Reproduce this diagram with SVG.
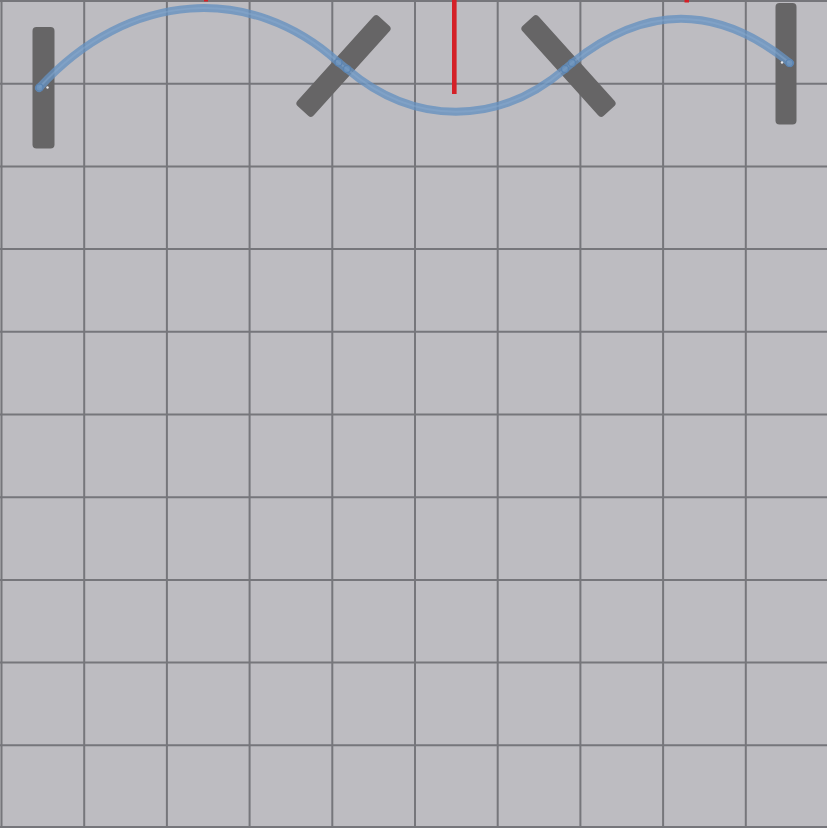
<svg xmlns="http://www.w3.org/2000/svg" width="827" height="828" viewBox="0 0 827 828">
<style>
.grid line{stroke:#76767b;stroke-width:2}
.bar{fill:#666566}
.rope{fill:none;stroke:#6791bf;stroke-opacity:0.8;stroke-width:8;stroke-linecap:round}
.rope2{fill:none;stroke:#8aabcf;stroke-opacity:0.45;stroke-width:2}
.pivot{fill:#7199c3;fill-opacity:0.6;stroke:#5a84b2;stroke-width:1.2}
.red{fill:#d42027}
</style>
<rect width="827" height="828" fill="#bdbcc1"/>
<g class="grid">
<line x1="1.5" y1="0" x2="1.5" y2="828"/>
<line x1="84.2" y1="0" x2="84.2" y2="828"/>
<line x1="166.9" y1="0" x2="166.9" y2="828"/>
<line x1="249.6" y1="0" x2="249.6" y2="828"/>
<line x1="332.3" y1="0" x2="332.3" y2="828"/>
<line x1="415" y1="0" x2="415" y2="828"/>
<line x1="497.7" y1="0" x2="497.7" y2="828"/>
<line x1="580.4" y1="0" x2="580.4" y2="828"/>
<line x1="663.1" y1="0" x2="663.1" y2="828"/>
<line x1="745.8" y1="0" x2="745.8" y2="828"/>
<line x1="0" y1="1" x2="827" y2="1"/>
<line x1="0" y1="83.7" x2="827" y2="83.7"/>
<line x1="0" y1="166.4" x2="827" y2="166.4"/>
<line x1="0" y1="249.1" x2="827" y2="249.1"/>
<line x1="0" y1="331.8" x2="827" y2="331.8"/>
<line x1="0" y1="414.5" x2="827" y2="414.5"/>
<line x1="0" y1="497.2" x2="827" y2="497.2"/>
<line x1="0" y1="579.9" x2="827" y2="579.9"/>
<line x1="0" y1="662.6" x2="827" y2="662.6"/>
<line x1="0" y1="745.3" x2="827" y2="745.3"/>
<line x1="0" y1="827" x2="827" y2="827"/>
</g>
<g id="red-marks">
<rect class="red" x="452" y="0" width="4.6" height="94"/>
<rect class="red" x="204" y="0" width="4" height="1.5"/>
<rect class="red" x="684.5" y="0" width="4.5" height="2.5"/>
</g>
<g id="bar-left"><rect class="bar" x="32.5" y="27" width="22" height="121.5" rx="4"/></g>
<g id="bar-diag1"><rect class="bar" x="-11" y="-60.5" width="22" height="121" rx="4" transform="translate(343.5,66) rotate(42)"/></g>
<g id="bar-diag2"><rect class="bar" x="-11" y="-60.5" width="22" height="121" rx="4" transform="translate(568.5,66) rotate(-42)"/></g>
<g id="bar-right"><rect class="bar" x="775.5" y="3" width="21" height="121.5" rx="4"/></g>
<g id="connectors">
<path class="rope" d="M39,88 C129,-11 252,-16 338,62 L347,69 C414,126 498,126 565,69 L572,63 C645,4 717,4 790,63"/>
<path class="rope2" d="M39,88 C129,-11 252,-16 338,62 L347,69 C414,126 498,126 565,69 L572,63 C645,4 717,4 790,63"/>
<circle class="pivot" cx="39.5" cy="87.5" r="3.5"/>
<circle class="pivot" cx="338.5" cy="62.5" r="3.5"/>
<circle class="pivot" cx="347" cy="69" r="3.5"/>
<circle class="pivot" cx="565" cy="69" r="3.5"/>
<circle class="pivot" cx="572" cy="63" r="3.5"/>
<circle class="pivot" cx="789.5" cy="63" r="3.5"/>
<circle cx="47.5" cy="87.5" r="1.2" fill="#e8e8ea"/>
<circle cx="782" cy="62.5" r="1.2" fill="#e8e8ea"/>
</g>
</svg>
